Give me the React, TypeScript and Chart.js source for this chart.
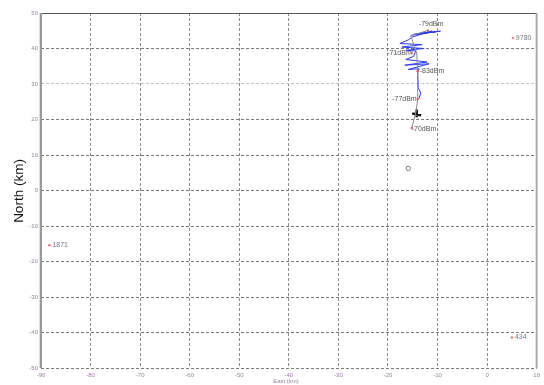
import React, { useEffect, useRef } from "react";
import { Chart, registerables } from "chart.js";

Chart.register(...registerables);

// Ground track of the flight (km east / km north)
const trackEast = [-15.2, -14.3, -14.0, -14.0, -14.2, -15.4, -11.9];
const trackNorth = [17.6, 22.4, 26.0, 33.6, 38.7, 43.6, 45.1];

// Antenna bearing sweeps along the track
const beamEast = [
  -15.4, -9.4, -14.8, -10.4, -13.7, -11.1, -15.2,
  -15.8, -17.6, -13.1, -17.2, -12.7, -16.4, -14.4,
  -14.8, -16.4, -12.1, -16.6, -11.7, -15.9, -13.7,
  -14.0, -13.9, -13.4, -13.7,
];
const beamNorth = [
  43.7, 44.9, 44.0, 44.7, 44.2, 44.9, 43.2,
  42.5, 41.4, 41.1, 40.4, 40.0, 39.5, 39.3,
  37.8, 36.9, 36.2, 35.3, 35.7, 34.1, 34.3,
  33.4, 29.0, 27.5, 25.9,
];

// Heading marker
const markEast = [-15.1, -13.3, null, -14.2, -14.2];
const markNorth = [21.7, 21.2, null, 22.8, 20.6];

// Signal strength readings
const rssiText = ["-79dBm", "-71dBm", "-83dBm", "-77dBm", "-70dBm"];
const rssiEast = [-11.9, -15.2, -14.0, -14.0, -15.2];
const rssiNorth = [45.1, 38.7, 33.6, 25.8, 17.6];

// Ground stations
const stationText = ["9780", "1871", "434"];
const stationEast = [5.2, -88.3, 5.0];
const stationNorth = [43.0, -15.4, -41.4];

// Launch site
const originEast = [-15.9];
const originNorth = [6.2];

// Axis ticks
const eastTicks = [-90, -80, -70, -60, -50, -40, -30, -20, -10, 0, 10];
const northTicks = [-50, -40, -30, -20, -10, 0, 10, 20, 30, 40, 50];

const pts = (xs: (number | null)[], ys: (number | null)[]) =>
  xs.map((x, i) => ({ x: x as number, y: ys[i] as number }));

// text placement for each reading: [align, dx, dy]
const rssiPlace: [CanvasTextAlign, number, number][] = [
  ["center", 3, -6],
  ["right", 0, 0],
  ["left", 2, 0],
  ["right", -1, 0],
  ["left", 0, 1],
];

const FONT = "Arial, 'Liberation Sans', sans-serif";

const labelPlugin = {
  id: "labels",
  afterDatasetsDraw(chart: any) {
    const { ctx, scales, chartArea } = chart;
    const xs = scales.x;
    const ys = scales.y;
    ctx.save();
    // frame
    ctx.strokeStyle = "#555";
    ctx.lineWidth = 1;
    ctx.beginPath();
    ctx.moveTo(chartArea.left, chartArea.top + 0.5);
    ctx.lineTo(chartArea.right, chartArea.top + 0.5);
    ctx.stroke();
    ctx.strokeStyle = "#aaa";
    ctx.lineWidth = 2;
    ctx.beginPath();
    ctx.moveTo(chartArea.right, chartArea.top);
    ctx.lineTo(chartArea.right, chartArea.bottom);
    ctx.stroke();
    ctx.strokeStyle = "#999";
    ctx.beginPath();
    ctx.moveTo(chartArea.left, chartArea.top);
    ctx.lineTo(chartArea.left, chartArea.bottom);
    ctx.stroke();
    ctx.strokeStyle = "#ddd";
    ctx.lineWidth = 1;
    ctx.beginPath();
    ctx.moveTo(chartArea.left - 1.5, chartArea.top);
    ctx.lineTo(chartArea.left - 1.5, chartArea.bottom);
    ctx.stroke();

    ctx.font = `7px ${FONT}`;
    ctx.textBaseline = "middle";
    // readings
    rssiText.forEach((t, i) => {
      const px = xs.getPixelForValue(rssiEast[i]);
      const py = ys.getPixelForValue(rssiNorth[i]);
      const [al, dx, dy] = rssiPlace[i];
      ctx.fillStyle = "#555";
      ctx.textAlign = al;
      ctx.fillText(t, px + dx, py + dy);
      ctx.fillStyle = "#e55";
      ctx.beginPath();
      ctx.arc(px, py, 1.2, 0, Math.PI * 2);
      ctx.fill();
    });
    // stations
    stationText.forEach((t, i) => {
      const px = xs.getPixelForValue(stationEast[i]);
      const py = ys.getPixelForValue(stationNorth[i]);
      ctx.fillStyle = "#f66";
      ctx.beginPath();
      ctx.arc(px, py, 1.2, 0, Math.PI * 2);
      ctx.fill();
      ctx.fillStyle = "#778";
      ctx.textAlign = "left";
      ctx.fillText(t, px + 3, py);
    });
    // axis titles
    ctx.fillStyle = "#111";
    ctx.font = `13.5px ${FONT}`;
    ctx.textAlign = "center";
    ctx.save();
    ctx.translate(19, 191);
    ctx.rotate(-Math.PI / 2);
    ctx.fillText("North (km)", 0, 0);
    ctx.restore();
    ctx.fillStyle = "#a07aa8";
    ctx.font = `6px ${FONT}`;
    ctx.fillText("East (km)", 286, 381);
    ctx.restore();
  },
};

export default function App() {
  const ref = useRef<HTMLCanvasElement>(null);

  useEffect(() => {
    if (!ref.current) return;
    const chart = new Chart(ref.current, {
      type: "scatter",
      data: {
        datasets: [
          {
            data: pts(trackEast, trackNorth),
            showLine: true,
            borderColor: "#8a8a8a",
            borderWidth: 1,
            pointRadius: 0,
          },
          {
            data: pts(beamEast, beamNorth),
            showLine: true,
            borderColor: "#2a3cf0",
            borderWidth: 1,
            pointRadius: 0,
          },
          {
            data: pts(markEast, markNorth),
            showLine: true,
            spanGaps: false,
            borderColor: "#111",
            borderWidth: 2.5,
            pointRadius: 0,
          },
          {
            data: pts(originEast, originNorth),
            pointRadius: 2.2,
            pointBorderWidth: 1,
            pointBorderColor: "#777",
            pointBackgroundColor: "rgba(0,0,0,0)",
          },
        ],
      },
      options: {
        animation: false,
        responsive: false,
        maintainAspectRatio: false,
        events: [],
        layout: { padding: { top: 13, right: 6, left: 0, bottom: 0 } },
        plugins: {
          legend: { display: false },
          tooltip: { enabled: false },
        },
        scales: {
          x: {
            type: "linear",
            min: -90,
            max: 10,
            afterBuildTicks: (s: any) => {
              s.ticks = eastTicks.map((v) => ({ value: v }));
            },
            afterFit: (s: any) => {
              s.height = 17;
            },
            border: { display: false, dash: [3, 2] },
            grid: {
              color: "#8a8a8a",
              lineWidth: 1,
              drawTicks: false,
            },
            ticks: {
              color: "#a07aa8",
              font: { size: 6, family: FONT },
              padding: 4,
              maxRotation: 0,
              autoSkip: false,
            },
          },
          y: {
            type: "linear",
            min: -50,
            max: 50,
            afterBuildTicks: (s: any) => {
              s.ticks = northTicks.map((v) => ({ value: v }));
            },
            afterFit: (s: any) => {
              s.width = 41;
            },
            border: { display: false, dash: [3, 2] },
            grid: {
              color: (c: any) => (c.tick && c.tick.value === 30 ? "#c4c4c4" : "#7a7a7a"),
              lineWidth: 1,
              drawTicks: false,
            },
            ticks: {
              color: "#a07aa8",
              font: { size: 6, family: FONT },
              padding: 3,
              autoSkip: false,
            },
          },
        },
      },
      plugins: [labelPlugin],
    });
    return () => chart.destroy();
  }, []);

  return (
    <div style={{ position: "fixed", left: 0, top: 0, width: 544, height: 385, background: "#fff" }}>
      <canvas ref={ref} width={544} height={385} style={{ width: 544, height: 385 }} />
    </div>
  );
}
